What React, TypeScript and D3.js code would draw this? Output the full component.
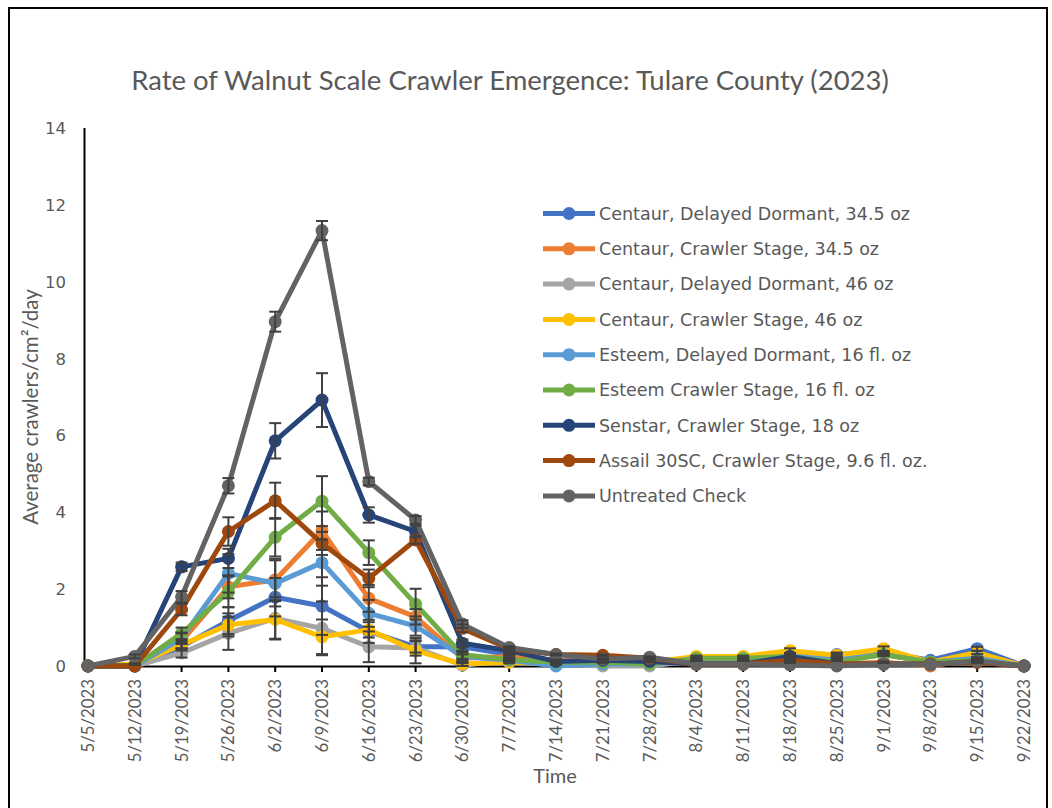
import React from "react";
import * as d3 from "d3";

const dates = [
  "5/5/2023", "5/12/2023", "5/19/2023", "5/26/2023", "6/2/2023", "6/9/2023", "6/16/2023",
  "6/23/2023", "6/30/2023", "7/7/2023", "7/14/2023", "7/21/2023", "7/28/2023", "8/4/2023",
  "8/11/2023", "8/18/2023", "8/25/2023", "9/1/2023", "9/8/2023", "9/15/2023", "9/22/2023",
];

const yTicks = [0, 2, 4, 6, 8, 10, 12, 14];

const seriesNames = [
  "Centaur, Delayed Dormant, 34.5 oz",
  "Centaur, Crawler Stage, 34.5 oz",
  "Centaur, Delayed Dormant, 46 oz",
  "Centaur, Crawler Stage, 46 oz",
  "Esteem, Delayed Dormant, 16 fl. oz",
  "Esteem Crawler Stage, 16 fl. oz",
  "Senstar, Crawler Stage, 18 oz",
  "Assail 30SC, Crawler Stage, 9.6 fl. oz.",
  "Untreated Check",
];

const seriesColors = ["#4472C4", "#ED7D31", "#A5A5A5", "#FFC000", "#5B9BD5", "#70AD47", "#264478", "#9E480E", "#636363"];

const centaurDD345 = [0, 0, 0.5, 1.18, 1.79, 1.56, 0.9, 0.5, 0.5, 0.3, 0.1, 0.05, 0.05, 0.1, 0.15, 0.3, 0.3, 0.35, 0.15, 0.45, 0];
const centaurCS345 = [0, 0, 0.65, 2.06, 2.24, 3.52, 1.76, 1.28, 0.2, 0.25, 0.15, 0.1, 0.1, 0.05, 0.05, 0.1, 0.05, 0.1, 0, 0.2, 0];
const centaurDD46 = [0, 0, 0.34, 0.85, 1.24, 0.98, 0.5, 0.47, 0.02, 0.15, 0.05, 0, 0, 0.15, 0.15, 0.3, 0.2, 0.3, 0.1, 0.2, 0];
const centaurCS46 = [0, 0.05, 0.55, 1.07, 1.21, 0.76, 0.94, 0.4, 0.05, 0.1, 0.05, 0.05, 0.1, 0.25, 0.25, 0.4, 0.28, 0.45, 0.1, 0.35, 0];
const esteemDD = [0, 0, 0.72, 2.41, 2.15, 2.69, 1.37, 1.04, 0.25, 0.15, 0, 0.05, 0.05, 0.15, 0.15, 0.25, 0.15, 0.3, 0.1, 0.2, 0];
const esteemCS = [0, 0, 0.85, 1.93, 3.35, 4.29, 2.95, 1.61, 0.29, 0.17, 0.1, 0.1, 0.05, 0.2, 0.2, 0.25, 0.1, 0.3, 0.1, 0.15, 0];
const senstarCS = [0, 0, 2.58, 2.8, 5.86, 6.92, 3.93, 3.5, 0.59, 0.4, 0.12, 0.15, 0.12, 0.05, 0.05, 0.25, 0.05, 0.05, 0.05, 0.1, 0];
const assailCS = [0, 0, 1.47, 3.5, 4.3, 3.19, 2.28, 3.28, 0.98, 0.45, 0.3, 0.28, 0.2, 0.05, 0.05, 0.15, 0.05, 0.05, 0.05, 0.1, 0];
const untreated = [0, 0.25, 1.8, 4.69, 8.96, 11.33, 4.8, 3.8, 1.09, 0.48, 0.3, 0.18, 0.23, 0.05, 0.05, 0.03, 0, 0.05, 0.03, 0.13, 0];

const errCentaurDD345 = [0, 0, 0.1, 0.35, 0.5, 0.75, 0.3, 0.15, 0.1, 0.03, 0.02, 0, 0, 0, 0, 0.03, 0.05, 0.03, 0, 0.05, 0];
const errCentaurCS345 = [0, 0, 0.2, 0.3, 0.55, 0.5, 0.35, 0.2, 0.1, 0.03, 0.02, 0, 0, 0, 0, 0.02, 0, 0.02, 0, 0.02, 0];
const errCentaurDD46 = [0, 0, 0.12, 0.43, 0.55, 0.7, 0.4, 0.2, 0.05, 0.03, 0.02, 0, 0, 0.02, 0.02, 0.03, 0.02, 0.03, 0, 0.02, 0];
const errCentaurCS46 = [0, 0.02, 0.1, 0.3, 0.5, 0.45, 0.2, 0.33, 0.05, 0.03, 0, 0, 0, 0.02, 0.02, 0.06, 0.03, 0.06, 0, 0.04, 0];
const errEsteemDD = [0, 0, 0.15, 0.5, 0.6, 0.6, 0.35, 0.25, 0.1, 0.03, 0, 0, 0, 0.02, 0.02, 0.02, 0.02, 0.03, 0, 0.02, 0];
const errEsteemCS = [0, 0, 0.15, 0.4, 0.5, 0.65, 0.32, 0.4, 0.1, 0.03, 0.02, 0.02, 0, 0.02, 0.02, 0.03, 0, 0.04, 0, 0.02, 0];
const errSenstarCS = [0, 0, 0.11, 0.25, 0.46, 0.7, 0.2, 0.15, 0.1, 0.03, 0.02, 0.02, 0.02, 0, 0, 0.03, 0, 0, 0, 0.02, 0];
const errAssailCS = [0, 0, 0.15, 0.37, 0.47, 0.3, 0.23, 0.1, 0.1, 0.03, 0.02, 0.02, 0.02, 0, 0, 0.02, 0, 0, 0, 0.02, 0];
const errUntreated = [0, 0.05, 0.15, 0.2, 0.26, 0.25, 0.1, 0.1, 0.1, 0.03, 0.02, 0.02, 0.02, 0, 0, 0, 0, 0, 0, 0.02, 0];

const seriesValues = [centaurDD345, centaurCS345, centaurDD46, centaurCS46, esteemDD, esteemCS, senstarCS, assailCS, untreated];
const seriesErrors = [errCentaurDD345, errCentaurCS345, errCentaurDD46, errCentaurCS46, errEsteemDD, errEsteemCS, errSenstarCS, errAssailCS, errUntreated];

const TEXT = "#595959";
const CAL = "Lato, 'Open Sans', sans-serif";
const VER = "'DejaVu Sans', Verdana, sans-serif";

export default function App() {
  const x = d3.scalePoint<string>().domain(dates).range([88, 1024]);
  const y = d3.scaleLinear().domain([0, 14]).range([666, 128]);
  const line = d3
    .line<number>()
    .x((_, i) => x(dates[i]) as number)
    .y((d) => y(d));

  const legendX = 543;
  const legendY0 = 213.5;
  const legendStep = 35.3;

  return (
    <svg
      width={1052}
      height={808}
      style={{ position: "absolute", left: 0, top: 0, background: "#fff" }}
    >
      <rect x={0} y={0} width={1052} height={808} fill="#fff" />
      <rect x={9} y={8} width={1038} height={830} fill="none" stroke="#000" strokeWidth={2} />

      <text x={510} y={90} textAnchor="middle" fontFamily={CAL} fontSize={27.5} fill={TEXT}>
        Rate of Walnut Scale Crawler Emergence: Tulare County (2023)
      </text>

      {/* y tick labels */}
      {yTicks.map((t) => (
        <text key={t} x={66} y={y(t)} dy="0.36em" textAnchor="end" fontFamily={VER} fontSize={16.5} fill={TEXT}>
          {t}
        </text>
      ))}

      <text
        transform={`translate(38,407) rotate(-90)`}
        textAnchor="middle"
        fontFamily={CAL}
        fontSize={20.5}
        fill={TEXT}
      >
        Average crawlers/cm²/day
      </text>

      {/* axes */}
      <line x1={84.5} x2={84.5} y1={128} y2={667} stroke="#000" strokeWidth={2} />
      <line x1={84} x2={1025} y1={666.5} y2={666.5} stroke="#000" strokeWidth={2} />
      {dates.map((d) => (
        <line key={d} x1={x(d)} x2={x(d)} y1={666} y2={672} stroke="#000" strokeWidth={2} />
      ))}

      {/* x labels */}
      {dates.map((d) => (
        <text
          key={d}
          transform={`translate(${x(d)},679) rotate(-90)`}
          dy="0.36em"
          textAnchor="end"
          fontFamily={CAL}
          fontSize={16.8}
          fill={TEXT}
        >
          {d}
        </text>
      ))}

      <text x={555} y={783} textAnchor="middle" fontFamily={CAL} fontSize={20} fill={TEXT}>
        Time
      </text>

      {/* series */}
      {seriesValues.map((vals, si) => (
        <g key={si}>
          <path d={line(vals) as string} fill="none" stroke={seriesColors[si]} strokeWidth={5} strokeLinejoin="round" />
          {vals.map((v, i) => (
            <circle key={i} cx={x(dates[i])} cy={y(v)} r={6.5} fill={seriesColors[si]} />
          ))}
        </g>
      ))}

      {/* error bars */}
      {seriesValues.map((vals, si) => (
        <g key={"e" + si} stroke="#404040" strokeWidth={2}>
          {vals.map((v, i) => {
            const e = seriesErrors[si][i];
            if (!e) return null;
            const cx = x(dates[i]) as number;
            const top = y(v + e);
            const bot = y(Math.max(0, v - e));
            return (
              <g key={i}>
                <line x1={cx} x2={cx} y1={top} y2={bot} />
                <line x1={cx - 6} x2={cx + 6} y1={top} y2={top} />
                <line x1={cx - 6} x2={cx + 6} y1={bot} y2={bot} />
              </g>
            );
          })}
        </g>
      ))}

      {/* legend */}
      {seriesNames.map((n, i) => {
        const ly = legendY0 + i * legendStep;
        return (
          <g key={n}>
            <line x1={legendX} x2={legendX + 52} y1={ly} y2={ly} stroke={seriesColors[i]} strokeWidth={5} />
            <circle cx={legendX + 26} cy={ly} r={6.5} fill={seriesColors[i]} />
            <text x={legendX + 56} y={ly} dy="0.36em" fontFamily={VER} fontSize={17.5} fill={TEXT}>
              {n}
            </text>
          </g>
        );
      })}
    </svg>
  );
}
